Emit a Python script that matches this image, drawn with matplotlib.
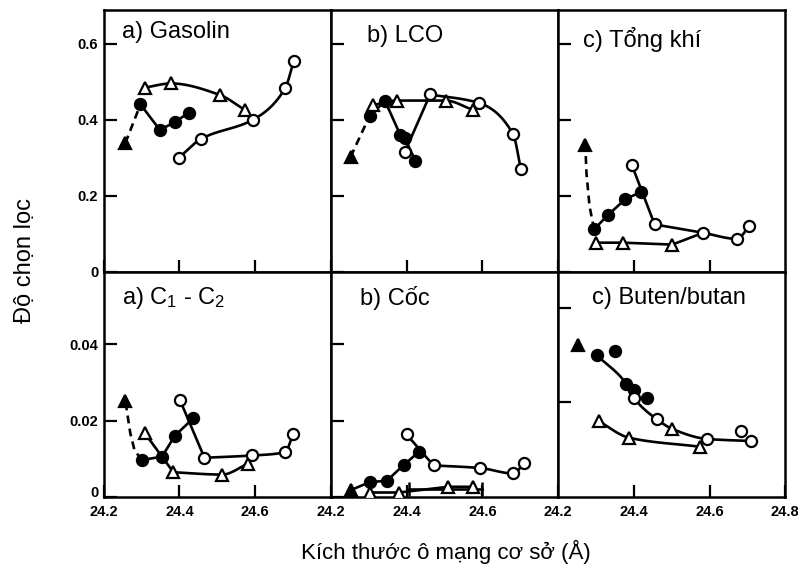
import numpy as np
import matplotlib
matplotlib.use("Agg")
import matplotlib.pyplot as plt
from matplotlib.transforms import ScaledTranslation

plt.rcParams['font.family'] = ['Liberation Sans', 'DejaVu Sans']
plt.rcParams['mathtext.fontset'] = 'custom'
plt.rcParams['mathtext.rm'] = 'Liberation Sans'
plt.rcParams['mathtext.it'] = 'Liberation Sans'

# ---- data ----
x_ticks = [24.2, 24.4, 24.6]
x_ticks_last = [24.2, 24.4, 24.6, 24.8]
top_yticks = [0, 0.2, 0.4, 0.6]
top_ylabels = ['0', '0.2', '0.4', '0.6']
bot_yticks = [0, 0.02, 0.04]
bot_ylabels = ['0', '0.02', '0.04']
bb_yticks = [1, 2]

titles = ['a) Gasolin', 'b) LCO', 'c) Tổng khí',
          'a) C$_1$ - C$_2$', 'b) Cốc', 'c) Buten/butan']

# Gasolin
gas_tri_x, gas_tri_y = [24.257], [0.339]
gas_fc_x = [24.297, 24.348, 24.388, 24.424]
gas_fc_y = [0.441, 0.374, 0.394, 0.419]
gas_ot_x = [24.308, 24.378, 24.506, 24.572]
gas_ot_y = [0.485, 0.496, 0.466, 0.427]
gas_oc_x = [24.398, 24.457, 24.595, 24.679, 24.702]
gas_oc_y = [0.300, 0.350, 0.401, 0.483, 0.556]

# LCO
lco_tri_x, lco_tri_y = [24.252], [0.303]
lco_fc_x = [24.302, 24.343, 24.383, 24.395, 24.423]
lco_fc_y = [0.410, 0.450, 0.361, 0.352, 0.293]
lco_ot_x = [24.311, 24.375, 24.503, 24.574]
lco_ot_y = [0.439, 0.451, 0.451, 0.427]
lco_oc_x = [24.395, 24.462, 24.590, 24.681, 24.702]
lco_oc_y = [0.315, 0.467, 0.445, 0.363, 0.270]

# Tong khi
tk_arrow_x = [24.295, 24.283, 24.275, 24.272]
tk_arrow_y = [0.112, 0.174, 0.260, 0.334]
tk_fc_x = [24.295, 24.331, 24.378, 24.419]
tk_fc_y = [0.112, 0.149, 0.192, 0.210]
tk_ot_x = [24.299, 24.371, 24.502]
tk_ot_y = [0.077, 0.077, 0.072]
tk_oc_x = [24.395, 24.455, 24.583, 24.673, 24.705]
tk_oc_y = [0.281, 0.125, 0.103, 0.087, 0.121]

# C1 - C2
c12_arrow_x = [24.300, 24.281, 24.270, 24.257]
c12_arrow_y = [0.0097, 0.0124, 0.0168, 0.0253]
c12_fc_x = [24.300, 24.354, 24.388, 24.437]
c12_fc_y = [0.0097, 0.0106, 0.0161, 0.0207]
c12_ot_x = [24.308, 24.384, 24.513, 24.580]
c12_ot_y = [0.0168, 0.0065, 0.0059, 0.0087]
c12_oc_x = [24.401, 24.466, 24.591, 24.679, 24.700]
c12_oc_y = [0.0255, 0.0103, 0.0109, 0.0118, 0.0164]

# Coc
coc_tri_x, coc_tri_y = [24.252], [0.0018]
coc_fc_x = [24.302, 24.348, 24.392, 24.432]
coc_fc_y = [0.0039, 0.0043, 0.0084, 0.0118]
coc_ot_x = [24.302, 24.380, 24.510, 24.576]
coc_ot_y = [0.0012, 0.0012, 0.0027, 0.0027]
coc_bar_x = [24.405, 24.600]
coc_bar_y = [0.0022, 0.0022]
coc_oc_x = [24.400, 24.471, 24.595, 24.681, 24.711]
coc_oc_y = [0.0164, 0.0083, 0.0076, 0.0062, 0.0089]

# Buten/butan
bb_tri_x, bb_tri_y = [24.253], [1.608]
bb_fc_x = [24.302, 24.351, 24.380, 24.400, 24.434]
bb_fc_y = [1.50, 1.54, 1.20, 1.13, 1.044]
bb_ot_x = [24.307, 24.387, 24.502, 24.575]
bb_ot_y = [0.804, 0.628, 0.720, 0.532]
bb_oc_x = [24.400, 24.460, 24.594, 24.683, 24.709]
bb_oc_y = [1.05, 0.825, 0.614, 0.698, 0.593]


def pchip(x, y, n=40):
    # monotone cubic through the points, for the hand drawn curves
    x = np.asarray(x, float)
    y = np.asarray(y, float)
    h = np.diff(x)
    d = np.diff(y) / h
    m = np.zeros_like(x)
    m[0], m[-1] = d[0], d[-1]
    for k in range(1, len(x) - 1):
        if d[k - 1] * d[k] > 0:
            w1 = 2 * h[k] + h[k - 1]
            w2 = h[k] + 2 * h[k - 1]
            m[k] = (w1 + w2) / (w1 / d[k - 1] + w2 / d[k])
    xs, ys = [], []
    t = np.linspace(0, 1, n)
    for k in range(len(h)):
        h00 = 2 * t**3 - 3 * t**2 + 1
        h10 = t**3 - 2 * t**2 + t
        h01 = -2 * t**3 + 3 * t**2
        h11 = t**3 - t**2
        xs.append(x[k] + t * h[k])
        ys.append(h00 * y[k] + h10 * h[k] * m[k] + h01 * y[k + 1] + h11 * h[k] * m[k + 1])
    return np.concatenate(xs), np.concatenate(ys)


LW = 1.9
MS = 8
DASH = (0, (3, 2))


def curve(ax, x, y, ls='-'):
    cx, cy = pchip(x, y)
    ax.plot(cx, cy, color='black', lw=LW, ls=ls, zorder=2)


def line(ax, x, y, ls='-'):
    ax.plot(x, y, color='black', lw=LW, ls=ls, zorder=2)


def marks(ax, x, y, m, filled):
    ax.plot(x, y, ls='none', marker=m, ms=MS if m == 'o' else MS + 1,
            mfc='black' if filled else 'white', mec='black', mew=1.6, zorder=3)


fig, axes = plt.subplots(2, 3, figsize=(7.98, 5.74), dpi=100,
                         gridspec_kw=dict(height_ratios=[262, 225], wspace=0, hspace=0))
fig.subplots_adjust(left=0.130, right=0.984, top=0.983, bottom=0.134)

# a) Gasolin
ax = axes[0, 0]
line(ax, gas_tri_x + gas_fc_x[:1], gas_tri_y + gas_fc_y[:1], ls=DASH)
line(ax, gas_fc_x, gas_fc_y)
curve(ax, gas_ot_x, gas_ot_y)
curve(ax, gas_oc_x, gas_oc_y)
marks(ax, gas_tri_x, gas_tri_y, '^', True)
marks(ax, gas_fc_x, gas_fc_y, 'o', True)
marks(ax, gas_ot_x, gas_ot_y, '^', False)
marks(ax, gas_oc_x, gas_oc_y, 'o', False)

# b) LCO
ax = axes[0, 1]
line(ax, lco_tri_x + lco_fc_x[:1], lco_tri_y + lco_fc_y[:1], ls=DASH)
line(ax, lco_fc_x, lco_fc_y)
curve(ax, lco_ot_x, lco_ot_y)
line(ax, lco_oc_x[:2], lco_oc_y[:2])
curve(ax, lco_oc_x[1:], lco_oc_y[1:])
marks(ax, lco_tri_x, lco_tri_y, '^', True)
marks(ax, lco_ot_x, lco_ot_y, '^', False)
marks(ax, lco_oc_x, lco_oc_y, 'o', False)
marks(ax, lco_fc_x, lco_fc_y, 'o', True)

# c) Tong khi
ax = axes[0, 2]
line(ax, tk_arrow_x, tk_arrow_y, ls=DASH)
marks(ax, tk_arrow_x[-1:], tk_arrow_y[-1:], '^', True)
line(ax, tk_fc_x, tk_fc_y)
line(ax, tk_ot_x + tk_oc_x[2:3], tk_ot_y + tk_oc_y[2:3])
line(ax, tk_oc_x[:2], tk_oc_y[:2])
curve(ax, tk_oc_x[1:], tk_oc_y[1:])
marks(ax, tk_ot_x, tk_ot_y, '^', False)
marks(ax, tk_fc_x, tk_fc_y, 'o', True)
marks(ax, tk_oc_x, tk_oc_y, 'o', False)

# a) C1 - C2
ax = axes[1, 0]
line(ax, c12_arrow_x, c12_arrow_y, ls=DASH)
marks(ax, c12_arrow_x[-1:], c12_arrow_y[-1:], '^', True)
line(ax, c12_fc_x, c12_fc_y)
line(ax, c12_ot_x[:2], c12_ot_y[:2])
curve(ax, c12_ot_x[1:], c12_ot_y[1:])
line(ax, c12_oc_x[:2], c12_oc_y[:2])
curve(ax, c12_oc_x[1:], c12_oc_y[1:])
marks(ax, c12_ot_x, c12_ot_y, '^', False)
marks(ax, c12_fc_x, c12_fc_y, 'o', True)
marks(ax, c12_oc_x, c12_oc_y, 'o', False)

# b) Coc
ax = axes[1, 1]
line(ax, coc_tri_x + coc_fc_x, coc_tri_y + coc_fc_y)
line(ax, coc_ot_x, coc_ot_y)
ax.plot(coc_bar_x, coc_bar_y, color='black', lw=LW, marker='|', ms=10, mew=1.8, zorder=2)
line(ax, coc_oc_x[:2], coc_oc_y[:2])
curve(ax, coc_oc_x[1:], coc_oc_y[1:])
marks(ax, coc_tri_x, coc_tri_y, '^', True)
marks(ax, coc_ot_x, coc_ot_y, '^', False)
marks(ax, coc_fc_x, coc_fc_y, 'o', True)
marks(ax, coc_oc_x, coc_oc_y, 'o', False)

# c) Buten/butan
ax = axes[1, 2]
main_x = [bb_fc_x[0], bb_fc_x[2], bb_oc_x[0], bb_oc_x[1], bb_ot_x[2], bb_oc_x[2], bb_oc_x[4]]
main_y = [bb_fc_y[0], bb_fc_y[2], bb_oc_y[0], bb_oc_y[1], bb_ot_y[2], bb_oc_y[2], bb_oc_y[4]]
curve(ax, main_x, main_y)
low_x = [bb_ot_x[0], bb_ot_x[1], bb_ot_x[3]]
low_y = [bb_ot_y[0], bb_ot_y[1], bb_ot_y[3]]
curve(ax, low_x, low_y)
marks(ax, bb_tri_x, bb_tri_y, '^', True)
marks(ax, bb_ot_x, bb_ot_y, '^', False)
marks(ax, bb_fc_x, bb_fc_y, 'o', True)
marks(ax, bb_oc_x, bb_oc_y, 'o', False)

# ---- axes styling ----
title_pos = [(0.08, 0.915), (0.16, 0.90), (0.11, 0.885),
             (0.08, 0.885), (0.13, 0.885), (0.148, 0.885)]
lift = ScaledTranslation(0, 4 / 72, fig.dpi_scale_trans)
for i, ax in enumerate(axes.flat):
    r, c = divmod(i, 3)
    ax.set_xlim(24.2, 24.8)
    if r == 0:
        ax.set_ylim(0, 0.69)
        ax.set_yticks(top_yticks)
        ax.set_yticklabels(top_ylabels if c == 0 else [])
    elif c < 2:
        ax.set_ylim(0, 0.059)
        ax.set_yticks(bot_yticks)
        ax.set_yticklabels(bot_ylabels if c == 0 else [])
    else:
        ax.set_ylim(0, 2.38)
        ax.set_yticks(bb_yticks)
        ax.set_yticklabels([])
    if r == 1:
        ticks = x_ticks_last if c == 2 else x_ticks
        ax.set_xticks(ticks)
        ax.set_xticklabels([f'{t:.1f}' for t in ticks])
    else:
        ax.set_xticks(x_ticks)
        ax.set_xticklabels([])
    ax.tick_params(direction='in', length=9, width=1.6, labelsize=10.5, pad=4)
    ax.tick_params(axis='x', pad=6)
    for lab in ax.get_xticklabels() + ax.get_yticklabels():
        lab.set_fontweight('bold')
    if r == 1 and c == 0:
        zero = ax.get_yticklabels()[0]
        zero.set_transform(zero.get_transform() + lift)
    for sp in ax.spines.values():
        sp.set_linewidth(1.8)
    ax.text(title_pos[i][0], title_pos[i][1], titles[i], transform=ax.transAxes,
            fontsize=17, ha='left', va='center')

fig.text(0.031, 0.547, 'Độ chọn lọc', rotation=90, fontsize=17,
         ha='center', va='center')
fig.text(0.559, 0.038, 'Kích thước ô mạng cơ sở (Å)', fontsize=16,
         ha='center', va='center')

fig.savefig('out.png', dpi=100)
